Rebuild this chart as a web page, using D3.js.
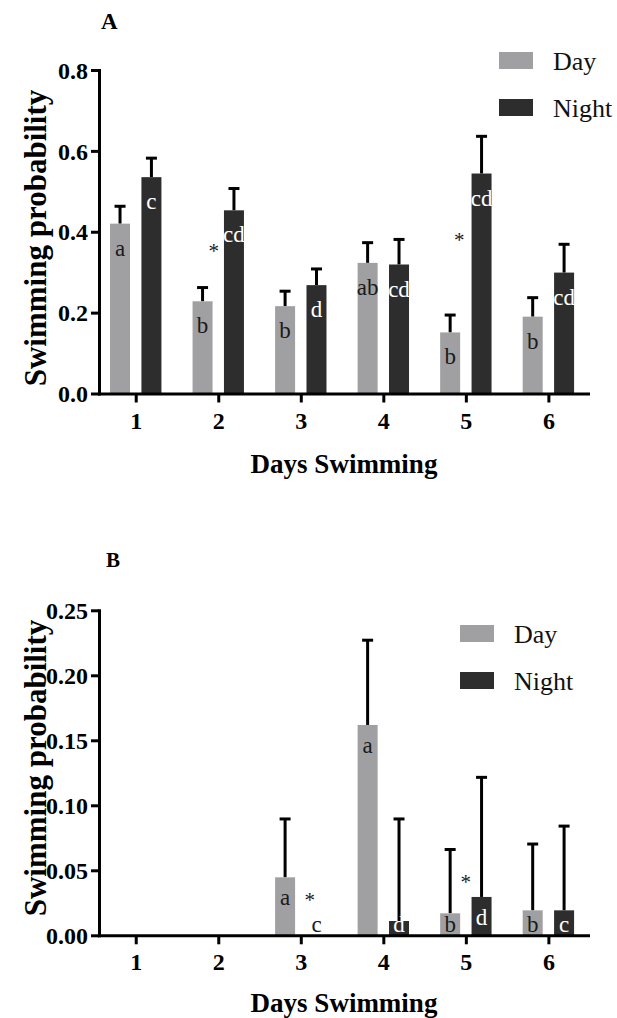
<!DOCTYPE html>
<html>
<head>
<meta charset="utf-8">
<script src="https://cdn.jsdelivr.net/npm/d3@7"></script>
<style>
  html, body { margin: 0; padding: 0; background: #fff; }
  svg { display: block; }
</style>
</head>
<body>
<svg id="chart" width="617" height="1018"></svg>
<script>
// ---------------- DATA ----------------
const days = [1, 2, 3, 4, 5, 6];
const series = ["Day", "Night"];

// Panel A
const dayA      = [0.420, 0.228, 0.216, 0.323, 0.151, 0.190];
const dayAErr   = [0.043, 0.034, 0.037, 0.050, 0.043, 0.047];
const nightA    = [0.535, 0.453, 0.268, 0.319, 0.544, 0.299];
const nightAErr = [0.047, 0.054, 0.040, 0.062, 0.092, 0.070];
const dayALetters   = ["a", "b", "b", "ab", "b", "b"];
const nightALetters = ["c", "cd", "d", "cd", "cd", "cd"];
const starsADay = [1.945, 4.92];
const starsAVal = [0.357, 0.385];
const ticksA = [0, 0.2, 0.4, 0.6, 0.8];

// Panel B
const dayB      = [0, 0, 0.0446, 0.1618, 0.0169, 0.0192];
const dayBErr   = [null, null, 0.0449, 0.0652, 0.0491, 0.0510];
const nightB    = [0, 0, 0, 0.0110, 0.0295, 0.0192];
const nightBErr = [null, null, null, 0.0785, 0.0920, 0.0648];
const dayBLetters   = ["", "", "a", "a", "b", "b"];
const nightBLetters = ["", "", "c", "d", "d", "c"];
const starsBDay = [3.11, 5.0];
const starsBVal = [0.0289, 0.0425];
const ticksB = [0, 0.05, 0.10, 0.15, 0.20, 0.25];

const xTitle = "Days Swimming";
const yTitle = "Swimming probability";

// ---------------- STYLE ----------------
const FONT = '"Liberation Serif"';
const colors = { Day: "#a0a0a2", Night: "#2d2d2d" };
const svg = d3.select("#chart");

function panel(cfg) {
  const g = svg.append("g");
  const x = d3.scaleLinear().domain([0.555, 6.48]).range([99, 588]);
  const y = d3.scaleLinear().domain(cfg.yDomain).range([cfg.y0, cfg.yTop]);
  const sub = d3.scaleBand().domain(series).range([-25.7, 25.7]).paddingInner(0.363).paddingOuter(0);
  const bw = sub.bandwidth();

  const rows = [];
  days.forEach((d, i) => {
    rows.push({ s: "Day", day: d, v: cfg.day[i], e: cfg.dayErr[i], l: cfg.dayL[i] });
    rows.push({ s: "Night", day: d, v: cfg.night[i], e: cfg.nightErr[i], l: cfg.nightL[i] });
  });
  const cx = r => x(r.day) + sub(r.s) + bw / 2;

  // error bars (behind bars)
  const er = rows.filter(r => r.e != null);
  g.selectAll(".stem").data(er).enter().append("line")
    .attr("x1", cx).attr("x2", cx)
    .attr("y1", r => y(r.v)).attr("y2", r => y(r.v + r.e))
    .attr("stroke", "#000").attr("stroke-width", 3);
  g.selectAll(".cap").data(er).enter().append("line")
    .attr("x1", r => cx(r) - 5.5).attr("x2", r => cx(r) + 5.5)
    .attr("y1", r => y(r.v + r.e)).attr("y2", r => y(r.v + r.e))
    .attr("stroke", "#000").attr("stroke-width", 3);

  // bars
  g.selectAll(".bar").data(rows).enter().append("rect")
    .attr("x", r => x(r.day) + sub(r.s))
    .attr("width", bw)
    .attr("y", r => y(r.v))
    .attr("height", r => y(0) - y(r.v))
    .attr("fill", r => colors[r.s]);

  // letters
  g.selectAll(".lab").data(rows.filter(r => r.l)).enter().append("text")
    .attr("x", cx)
    .attr("y", r => Math.min(y(r.v) + cfg.labOff, y(0) - 3))
    .attr("text-anchor", "middle")
    .style("font-family", FONT).style("font-size", "23px")
    .attr("fill", r => (r.s === "Night" && r.v > 0) ? "#fff" : "#1a1a1a")
    .text(r => r.l);

  // asterisks
  g.selectAll(".star").data(cfg.starDay.map((d, i) => ({ d, v: cfg.starVal[i] }))).enter().append("text")
    .attr("x", r => x(r.d)).attr("y", r => y(r.v) + 9)
    .attr("text-anchor", "middle").style("font-family", FONT).style("font-size", "21px").attr("fill", "#1a1a1a")
    .text("*");

  // axes
  const yAxis = d3.axisLeft(y).tickValues(cfg.ticks).tickFormat(cfg.fmt).tickSize(8).tickSizeOuter(0).tickPadding(3);
  const ya = g.append("g").attr("transform", "translate(99,0)").call(yAxis);
  const xAxis = d3.axisBottom(x).tickValues(days).tickFormat(d3.format("d")).tickSize(9).tickSizeOuter(0).tickPadding(9);
  const xa = g.append("g").attr("transform", `translate(0,${cfg.y0})`).call(xAxis);
  [ya, xa].forEach(a => {
    a.select(".domain").attr("stroke", "#000").attr("stroke-width", 3).attr("stroke-linecap", "square");
    a.selectAll(".tick line").attr("stroke", "#000").attr("stroke-width", 3);
    a.selectAll(".tick text").attr("fill", "#000")
      .style("font-family", FONT).style("font-size", "24px").style("font-weight", "bold");
  });
  ya.selectAll(".tick text").attr("dy", "0.34em");

  // titles
  g.append("text").attr("x", 344).attr("y", cfg.xTitleY).attr("text-anchor", "middle")
    .style("font-family", FONT).style("font-size", "27px").style("font-weight", "bold").text(xTitle);
  g.append("text").attr("transform", `translate(46,${cfg.yTitleC}) rotate(-90)`).attr("text-anchor", "middle")
    .style("font-family", FONT).style("font-size", "31px").style("font-weight", "bold").text(yTitle);
  g.append("text").attr("x", cfg.letterX).attr("y", cfg.letterY).attr("text-anchor", "start")
    .style("font-family", FONT).style("font-size", cfg.letterSize + "px").style("font-weight", "bold").text(cfg.letter);

  // legend
  series.forEach((s, i) => {
    g.append("rect").attr("x", cfg.legX).attr("y", cfg.legY + i * 47).attr("width", 34).attr("height", 17)
      .attr("fill", colors[s]);
    g.append("text").attr("x", cfg.legX + 54).attr("y", cfg.legY + 18 + i * 47)
      .style("font-family", FONT).style("font-size", "26px").attr("fill", "#111").text(s);
  });
}

panel({
  yDomain: [0, 0.8], y0: 393.5, yTop: 70,
  day: dayA, dayErr: dayAErr, night: nightA, nightErr: nightAErr,
  dayL: dayALetters, nightL: nightALetters,
  starDay: starsADay, starVal: starsAVal,
  ticks: ticksA, fmt: d3.format(".1f"), labOff: 32,
  xTitleY: 473, yTitleC: 238,
  letter: "A", letterX: 101, letterY: 29, letterSize: 23,
  legX: 499, legY: 52
});

panel({
  yDomain: [0, 0.25], y0: 935.3, yTop: 610.3,
  day: dayB, dayErr: dayBErr, night: nightB, nightErr: nightBErr,
  dayL: dayBLetters, nightL: nightBLetters,
  starDay: starsBDay, starVal: starsBVal,
  ticks: ticksB, fmt: d3.format(".2f"), labOff: 28,
  xTitleY: 1012, yTitleC: 768,
  letter: "B", letterX: 106, letterY: 566.5, letterSize: 21,
  legX: 460, legY: 625
});
</script>
</body>
</html>
